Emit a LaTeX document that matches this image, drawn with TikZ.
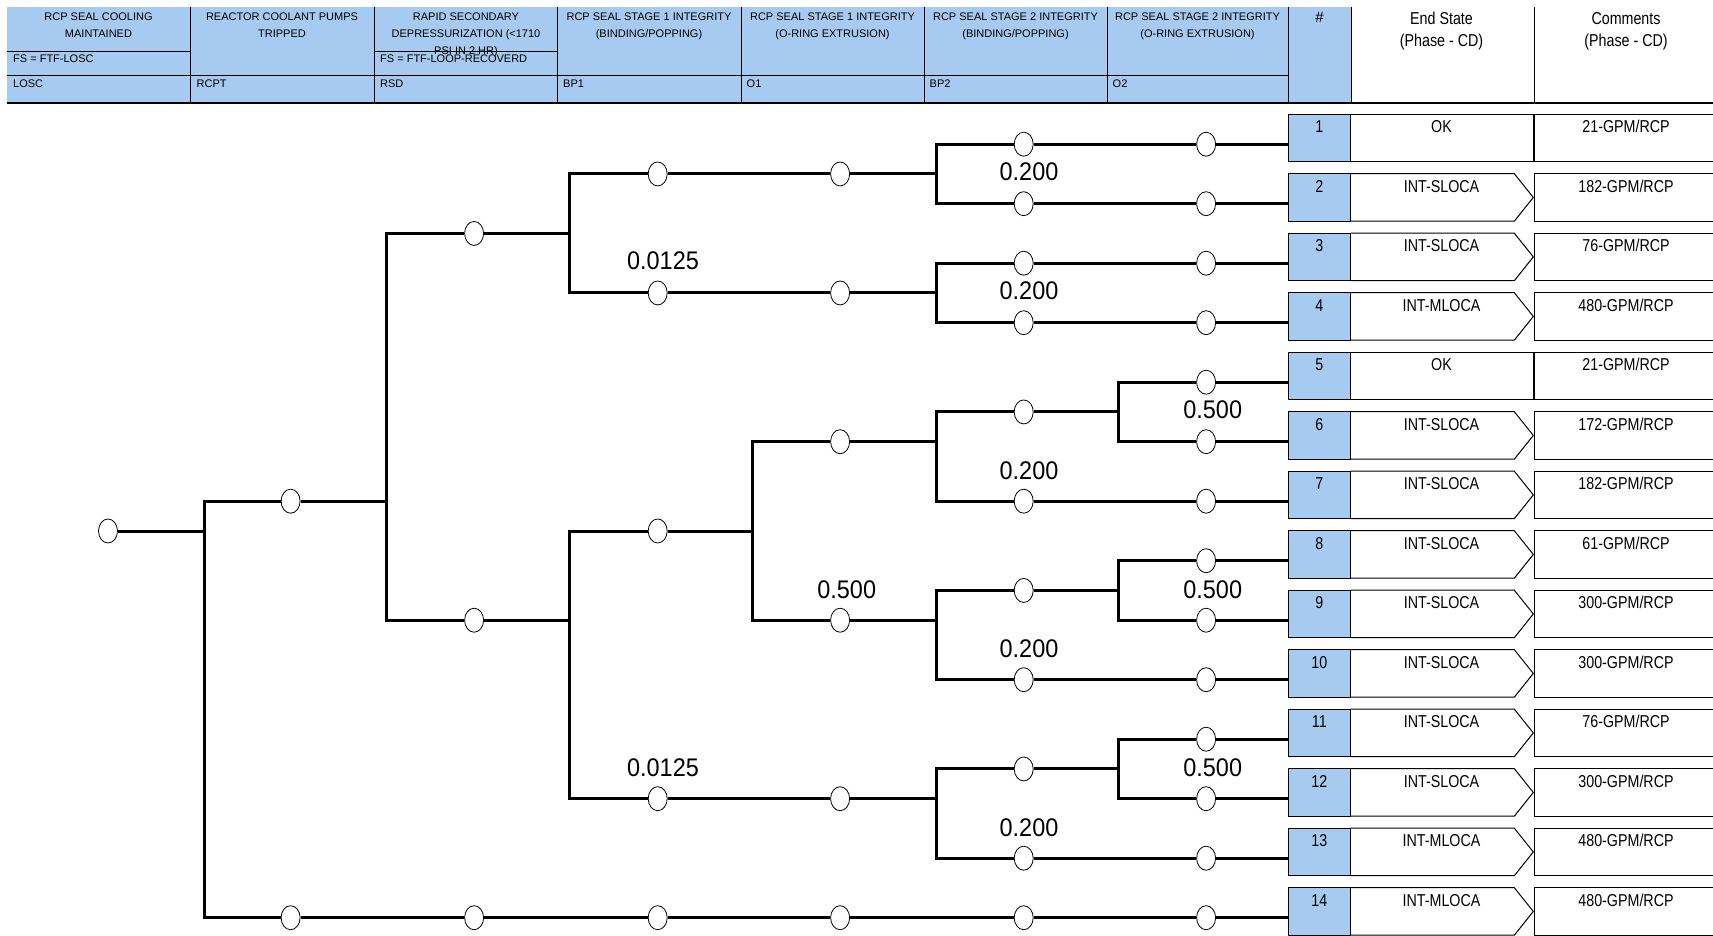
\documentclass[tikz,border=0pt]{standalone}
\usepackage{fontspec}
\setmainfont{Liberation Sans}
\newfontfamily\esfont[FakeStretch=0.83]{Liberation Sans}
\newfontfamily\pfont[FakeStretch=0.92]{Liberation Sans}
\usetikzlibrary{shapes.geometric,calc}
\definecolor{hdrblue}{RGB}{166,202,240}
\begin{document}
\begin{tikzpicture}[x=1pt,y=-1pt,
  ev/.style={ellipse,draw,fill=white,line width=0.8pt,minimum width=19pt,minimum height=24pt,inner sep=0pt},
  br/.style={line width=3pt},
  prob/.style={font=\pfont\fontsize{25.5}{28}\selectfont,inner sep=0pt,anchor=base},
  hdr/.style={font=\fontsize{11}{13}\selectfont,inner sep=0pt,anchor=base},
  hdrl/.style={hdr,anchor=base west},
  es/.style={font=\esfont\fontsize{17.2}{20}\selectfont,inner sep=0pt,anchor=base},
  hline/.style={line width=0.9pt},
  boxline/.style={line width=1pt},
  numcell/.style={draw,fill=hdrblue,line width=1pt,minimum width=62.7pt,minimum height=47.5pt,inner sep=0pt}]
\clip (0,0) rectangle (1713,936);
\fill[white] (0,0) rectangle (1713,936);
% ---------------- header ----------------
\fill[hdrblue] (6.5,7) rectangle (1351,103);
\foreach \x in {190.5,374,557.5,741,924,1107,1288,1351,1534}
  \draw[hline] (\x,7) -- (\x,103);
\draw[hline] (6.5,51) -- (190.5,51);
\draw[hline] (374,51) -- (557.5,51);
\draw[hline] (6.5,75.7) -- (1288,75.7);
\draw[line width=1.6pt] (6.5,103) -- (1713,103);
% column titles
\node[hdr] (h1a) at (98.5,20.4) {RCP SEAL COOLING};
\node[hdr] (h1b) at (98.5,37.9) {MAINTAINED};
\node[hdrl] (h1c) at (13,63) {FS = FTF-LOSC};
\node[hdrl] (h1d) at (13,88) {LOSC};
\node[hdr] (h2a) at (282,20.4) {REACTOR COOLANT PUMPS};
\node[hdr] (h2b) at (282,37.9) {TRIPPED};
\node[hdrl] (h2d) at (196.5,88) {RCPT};
\node[hdr] (h3a) at (466,20.4) {RAPID SECONDARY};
\node[hdr] (h3b) at (466,37.9) {DEPRESSURIZATION (<1710};
\node[hdr] (h3e) at (466,54.3) {PSI IN 2 HR)};
\node[hdrl] (h3c) at (380,63) {FS = FTF-LOOP-RECOVERD};
\node[hdrl] (h3d) at (380,88) {RSD};
\node[hdr] (h4a) at (649,20.4) {RCP SEAL STAGE 1 INTEGRITY};
\node[hdr] (h4b) at (649,37.9) {(BINDING/POPPING)};
\node[hdrl] (h4d) at (563,88) {BP1};
\node[hdr] (h5a) at (832.5,20.4) {RCP SEAL STAGE 1 INTEGRITY};
\node[hdr] (h5b) at (832.5,37.9) {(O-RING EXTRUSION)};
\node[hdrl] (h5d) at (746.5,88) {O1};
\node[hdr] (h6a) at (1015.5,20.4) {RCP SEAL STAGE 2 INTEGRITY};
\node[hdr] (h6b) at (1015.5,37.9) {(BINDING/POPPING)};
\node[hdrl] (h6d) at (929.5,88) {BP2};
\node[hdr] (h7a) at (1197.5,20.4) {RCP SEAL STAGE 2 INTEGRITY};
\node[hdr] (h7b) at (1197.5,37.9) {(O-RING EXTRUSION)};
\node[hdrl] (h7d) at (1112.5,88) {O2};
\node[anchor=base,inner sep=0pt,font=\fontsize{15}{17}\selectfont] (hnum) at (1319.5,22.4) {\#};
\node[es] (hesa) at (1441.5,24.9) {End State};
\node[es] (hesb) at (1441.5,46.9) {(Phase - CD)};
\node[es] (hcma) at (1626,24.9) {Comments};
\node[es] (hcmb) at (1626,46.9) {(Phase - CD)};
% ---------------- tree nodes ----------------
\node[ev] (init) at (108,531) {};
\coordinate (s1) at (204.3,531);
\node[ev] (a1) at (290.6,501.2) {};
\coordinate (s2) at (386.7,501.2);
\node[ev] (b1) at (290.6,917.7) {};
\node[ev] (b2) at (474.1,917.7) {};
\node[ev] (b3) at (657.7,917.7) {};
\node[ev] (b4) at (840.1,917.7) {};
\node[ev] (b5) at (1023.7,917.7) {};
\node[ev] (a2u) at (474.1,233.45) {};
\coordinate (s3u) at (569.2,233.45);
\node[ev] (a2l) at (474.1,620.2) {};
\coordinate (s3l) at (569.2,620.2);
\node[ev] (u3a) at (657.7,173.95) {};
\node[ev] (u4a) at (840.1,173.95) {};
\coordinate (s5a) at (936.3,173.95);
\node[ev] (u3b) at (657.7,292.95) {};
\node[ev] (u4b) at (840.1,292.95) {};
\coordinate (s5b) at (936.3,292.95);
\node[ev] (l3a) at (657.7,531) {};
\coordinate (s4) at (752.7,531);
\node[ev] (l4a) at (840.1,441.7) {};
\coordinate (s5c) at (936.3,441.7);
\node[ev] (l5a) at (1023.7,411.95) {};
\coordinate (s6a) at (1118.7,411.95);
\node[ev] (l4b) at (840.1,620.2) {};
\coordinate (s5d) at (936.3,620.2);
\node[ev] (l5b) at (1023.7,590.45) {};
\coordinate (s6b) at (1118.7,590.45);
\node[ev] (l3b) at (657.7,798.7) {};
\node[ev] (l4c) at (840.1,798.7) {};
\coordinate (s5e) at (936.3,798.7);
\node[ev] (l5c) at (1023.7,768.95) {};
\coordinate (s6c) at (1118.7,768.95);
\foreach \r/\y in {1/144.2,2/203.7,3/263.2,4/322.7,7/501.2,10/679.7,13/858.2}
  \node[ev] (c5r\r) at (1023.7,\y) {};
\foreach \r in {1,...,14}{
  \pgfmathsetmacro\yy{144.2+59.5*(\r-1)}
  \node[ev] (c6r\r) at (1206.1,\yy) {};
}
% ---------------- tree connectors ----------------
\draw[br] (init) -- (s1);
\draw[br] (s1) |- (a1) (a1) -- (s2);
\draw[br] (s1) |- (b1) (b1) -- (b2) (b2) -- (b3) (b3) -- (b4) (b4) -- (b5) (b5) -- (c6r14);
\draw[br] (s2) |- (a2u) (a2u) -- (s3u);
\draw[br] (s2) |- (a2l) (a2l) -- (s3l);
\draw[br] (s3u) |- (u3a) (u3a) -- (u4a) (u4a) -- (s5a);
\draw[br] (s5a) |- (c5r1) (c5r1) -- (c6r1);
\draw[br] (s5a) |- (c5r2) (c5r2) -- (c6r2);
\draw[br] (s3u) |- (u3b) (u3b) -- (u4b) (u4b) -- (s5b);
\draw[br] (s5b) |- (c5r3) (c5r3) -- (c6r3);
\draw[br] (s5b) |- (c5r4) (c5r4) -- (c6r4);
\draw[br] (s3l) |- (l3a) (l3a) -- (s4);
\draw[br] (s4) |- (l4a) (l4a) -- (s5c);
\draw[br] (s5c) |- (l5a) (l5a) -- (s6a);
\draw[br] (s6a) |- (c6r5) (s6a) |- (c6r6);
\draw[br] (s5c) |- (c5r7) (c5r7) -- (c6r7);
\draw[br] (s4) |- (l4b) (l4b) -- (s5d);
\draw[br] (s5d) |- (l5b) (l5b) -- (s6b);
\draw[br] (s6b) |- (c6r8) (s6b) |- (c6r9);
\draw[br] (s5d) |- (c5r10) (c5r10) -- (c6r10);
\draw[br] (s3l) |- (l3b) (l3b) -- (l4c) (l4c) -- (s5e);
\draw[br] (s5e) |- (l5c) (l5c) -- (s6c);
\draw[br] (s6c) |- (c6r11) (s6c) |- (c6r12);
\draw[br] (s5e) |- (c5r13) (c5r13) -- (c6r13);
% ---------------- probabilities ----------------
\node[prob] (p1) at (663,269.2) {0.0125};
\node[prob] (p2) at (663,776.2) {0.0125};
\node[prob] (p3) at (1029,180.7) {0.200};
\node[prob] (p4) at (1029,299.8) {0.200};
\node[prob] (p5) at (1029,479.2) {0.200};
\node[prob] (p6) at (1029,657.2) {0.200};
\node[prob] (p7) at (1029,836.2) {0.200};
\node[prob] (p8) at (1212.7,418.2) {0.500};
\node[prob] (p9) at (846.7,598.2) {0.500};
\node[prob] (p10) at (1212.7,598.2) {0.500};
\node[prob] (p11) at (1212.7,776.2) {0.500};
% ---------------- end states ----------------
\foreach \i/\es/\cm/\ar in {1/OK/21/0,2/INT-SLOCA/182/1,3/INT-SLOCA/76/1,4/INT-MLOCA/480/1,5/OK/21/0,6/INT-SLOCA/172/1,7/INT-SLOCA/182/1,8/INT-SLOCA/61/1,9/INT-SLOCA/300/1,10/INT-SLOCA/300/1,11/INT-SLOCA/76/1,12/INT-SLOCA/300/1,13/INT-MLOCA/480/1,14/INT-MLOCA/480/1}{
  \pgfmathsetmacro\ry{144.2+59.5*(\i-1)}
  \pgfmathsetmacro\yt{\ry-30}
  \pgfmathsetmacro\yb{\ry+17.5}
  \pgfmathsetmacro\ym{\ry-6.25}
  \pgfmathsetmacro\ytx{\ry-11.3}
  \ifnum\ar=1
    \draw[boxline] (1350.7,\yt) -- (1514.3,\yt) -- (1533.3,\ym) -- (1514.3,\yb) -- (1350.7,\yb);
  \else
    \draw[boxline] (1350.7,\yt) rectangle (1533.3,\yb);
  \fi
  \draw[boxline] (1534,\yt) rectangle (1730,\yb);
  \node[numcell] (n\i) at (1319.35,\ym) {};
  \node[es] (num\i) at (1319.35,\ytx) {\i};
  \node[es] (es\i) at (1441.5,\ytx) {\es};
  \node[es] (cm\i) at (1626,\ytx) {\cm-GPM/RCP};
  \draw[br] (c6r\i) -- (c6r\i -| n\i.west);
}
\end{tikzpicture}
\end{document}
